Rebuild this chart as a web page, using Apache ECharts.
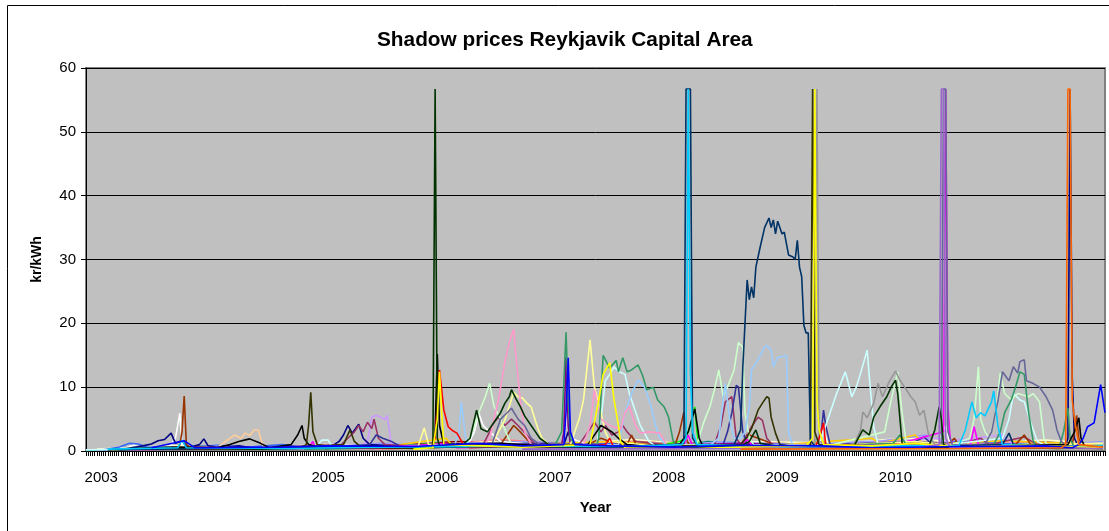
<!DOCTYPE html>
<html>
<head>
<meta charset="utf-8">
<script src="https://cdn.jsdelivr.net/npm/echarts@6/dist/echarts.min.js"></script>
<style>
  html, body { margin: 0; background: #fff; }
  #chart { width: 1109px; height: 531px; }
</style>
</head>
<body>
<div id="chart"></div>
<script>
// x = week index from the start of the series, y = kr/kWh
const yearLabels = ['2003', '2004', '2005', '2006', '2007', '2008', '2009', '2010']
const yearStartWeek = [7, 59, 111, 163, 215, 267, 319, 371]

const teal = [[8,0.2],[20,0.6],[35,0.4],[50,0.8],[65,0.5],[80,0.7],[95,0.3],[115,0.9],[130,0.6],[150,1.1],[165,0.8],[180,1.4],[195,1.6],[210,1.0],[225,1.3],[240,0.9],[255,1.2],[270,0.7],[285,1.5],[300,1.0],[315,1.3],[330,0.6],[345,1.1],[360,0.8],[375,1.2],[390,0.7],[405,1.4],[420,1.0],[435,0.8],[450,1.2],[466,0.6]]
const aqua = [[0,0.1],[25,0.4],[55,0.6],[85,0.3],[115,0.9],[145,0.5],[175,1.3],[205,0.8],[235,1.1],[265,0.7],[295,1.4],[325,0.9],[355,1.2],[385,0.6],[415,1.3],[445,0.8],[466,1]]
const darkRed = [[10,0.2],[45,0.5],[95,0.3],[135,0.7],[170,1.5],[195,1.2],[225,0.9],[255,1.6],[285,1.1],[315,1.4],[345,0.9],[375,1.3],[405,1.1],[435,1.5],[466,0.9]]
const lightPink = [[60,0.3],[110,0.5],[160,0.9],[190,1.8],[220,1.1],[250,1.5],[280,0.9],[310,1.3],[340,0.8],[370,1.6],[400,1],[430,1.4],[466,0.7]]
const cream = [[5,0.3],[40,0.8],[75,0.5],[110,1],[150,0.6],[185,1.5],[215,0.9],[250,1.8],[280,1.1],[310,1.5],[345,1.2],[375,2],[405,1.3],[440,1.7],[466,1.1]]
const periwinkle = [[5,0.2],[30,0.4],[70,0.6],[105,0.5],[135,1.2],[165,0.8],[200,1.5],[230,1.1],[262,0.7],[290,1.4],[330,1],[365,1.6],[385,2.5],[388,1.2],[415,1.8],[450,1.1],[466,1.5]]
const royal = [[8,0.2],[15,0.6],[20,1.2],[24,1.1],[28,0.6],[45,0.5],[60,0.9],[75,0.6],[90,1],[105,0.4],[130,0.8],[170,1.1],[210,0.7],[250,1.3],[290,0.9],[330,1.1],[370,0.7],[400,1.5],[430,1],[466,0.8]]
const gold = [[40,0.3],[90,0.5],[140,0.8],[165,2],[168,0.8],[200,1],[240,1.5],[280,0.8],[320,1],[360,2],[364,1.2],[380,2.5],[384,1],[420,1.6],[466,1]]
const lime = [[120,0.3],[140,0.6],[160,1.2],[175,0.8],[200,0.6],[220,0.9],[245,0.4],[260,0.7],[272,1.5],[275,2],[277,4],[279,6.9],[280,3],[281,0.8],[300,0.5],[330,0.8],[360,0.4],[400,0.9],[440,0.6],[466,0.4]]
const tan = [[20,0.2],[50,0.4],[60,0.5],[64,1.5],[68,2.5],[71,2],[73,2.8],[75,2.4],[77,3.3],[79,3.3],[81,0.8],[84,0.5],[130,0.4],[200,0.7],[260,0.5],[330,0.6],[400,0.5],[466,0.4]]
const lavender = [[90,0.3],[125,0.5],[129,1.5],[131,5.3],[133,5.6],[135,5.3],[137,4.9],[138,5.6],[139,3.3],[140,0.5],[180,0.8],[260,0.6],[360,1.2],[390,2],[392,1.5],[420,2.5],[425,1],[466,0.8]]
const white = [[12,0.2],[18,0.5],[22,0.9],[26,0.4],[38,0.5],[41,2],[43,5.9],[44,1],[46,0.5],[60,0.7],[80,0.4],[100,0.6],[120,0.5],[140,0.8],[160,0.5],[175,1],[178,3],[180,5.9],[182,4],[185,3],[190,1.5],[210,0.8],[219,1],[221,8],[222,2],[230,1],[250,0.6],[280,0.9],[310,0.5],[335,1],[338,3.5],[340,1],[360,0.6],[390,1],[394,4],[396,1],[420,0.7],[450,0.5],[466,0.9]]
const navy = [[18,0.3],[26,0.8],[30,1.1],[33,1.6],[36,1.8],[39,2.8],[41,1.2],[44,1.6],[47,0.5],[52,1],[54,1.9],[56,0.8],[62,0.5],[70,0.8],[78,0.4],[90,0.3],[112,0.6],[116,1.5],[118,2.5],[120,4],[122,2.8],[125,4.2],[127,2],[130,1],[150,0.6],[175,1.2],[200,0.9],[219,1],[221,3],[223,1],[250,0.7],[280,0.5],[310,0.8],[340,0.6],[380,0.5],[410,0.9],[440,0.6],[449,0.8],[450,2],[451,56.7],[452,11.4],[453,2],[455,0.5],[466,0.6]]
const plum = [[20,0.3],[50,0.6],[80,0.5],[117,1],[120,2],[123,3],[125,4],[127,3],[129,4.5],[131,3.5],[132,5],[134,2],[137,1],[160,0.6],[182,1],[185,3],[187,4.5],[189,5.3],[192,4],[195,5],[198,4],[202,2.5],[206,1],[226,1],[230,3],[233,4.5],[236,3],[238,4],[241,2.5],[244,3],[246,4],[248,3],[252,1.5],[270,0.8],[288,1],[291,4],[293,7.7],[296,8.5],[298,2],[300,1],[302,2],[305,3.8],[308,5.3],[310,4.8],[312,2],[315,0.8],[350,1],[380,1.5],[400,1],[410,2],[414,1],[430,2.2],[436,1],[466,0.8]]
const brown = [[42,0.5],[43,1],[44,3],[45,8.6],[46,1],[48,0.5],[80,0.4],[120,0.6],[150,0.5],[190,1],[193,2.5],[196,4],[199,3],[203,1.5],[206,0.8],[230,1],[236,2],[240,1.5],[248,1],[250,2.5],[252,1],[270,1],[272,3],[274,6.1],[275,2],[277,0.5],[300,1],[304,2.5],[308,2],[312,1.5],[316,0.8],[360,0.6],[395,1],[398,2],[400,0.8],[426,1],[430,2.5],[433,1],[452,1],[453,3],[454,5.6],[455,2],[457,0.5]]
const indigo = [[60,0.4],[110,0.5],[130,1],[133,2.5],[136,2],[140,1.5],[145,0.5],[180,0.8],[210,1.2],[250,0.9],[292,1],[294,3],[296,6],[298,10.3],[299,10],[301,3],[303,1],[320,0.7],[335,1],[337,3],[338,6.4],[339,4],[341,1],[380,1.5],[384,2.2],[388,1],[420,0.8],[466,0.6]]
const violet = [[60,0.3],[120,0.6],[160,0.9],[200,1],[218,1],[219,3],[220,14.7],[221,4],[222,1],[260,0.8],[300,1.2],[340,0.7],[380,1],[420,0.8],[466,0.5]]
const magenta = [[20,0.2],[60,0.4],[102,0.5],[104,1.5],[105,0.5],[140,0.6],[165,1.2],[170,0.5],[200,0.7],[240,0.5],[274,1],[276,2.5],[278,0.8],[300,1],[303,1.8],[306,0.6],[340,0.5],[370,0.9],[393,3],[394,56.7],[395,7],[396,2],[398,0.5],[405,0.5],[407,3.8],[409,1],[440,0.6],[466,0.5]]
const lightTurq = [[0,0.2],[30,0.3],[70,0.5],[105,0.5],[108,1.7],[111,1.7],[113,0.5],[150,0.7],[200,0.9],[225,0.6],[234,1],[236,5],[238,11],[240,12],[242,13.2],[244,12.5],[247,12],[249,9],[251,7],[254,4],[258,1.5],[262,0.5],[300,0.7],[336,1],[338,3],[341,6],[344,9],[348,12.4],[351,8.5],[353,10],[355,12.2],[358,15.8],[359,11.6],[361,3.8],[363,1],[390,0.8],[420,2],[423,5],[425,9],[428,8],[430,7.7],[433,4.4],[436,1.5],[440,0.8],[466,0.7]]
const lightGreen = [[150,0.3],[174,0.8],[177,3],[180,6],[183,8.5],[185,10.6],[187,7],[190,5],[193,2.5],[195,1],[230,0.6],[260,0.8],[280,1],[283,4.4],[286,7],[288,9.6],[290,12.7],[292,8.5],[294,10],[297,12.7],[299,17],[301,16.3],[302,6],[304,2],[306,1],[340,0.8],[366,3],[369,8],[372,12.4],[374,6],[376,1],[395,0.8],[405,2],[407,5],[409,13.2],[410,5],[412,3],[414,2],[417,6],[419,12.2],[421,9],[424,8],[427,9],[429,8.8],[432,8.5],[434,9],[437,7.7],[439,2],[441,0.5],[466,0.6]]
const paleBlue = [[80,0.3],[130,0.5],[160,0.6],[169,1],[171,3],[172,7.7],[174,2],[176,0.5],[210,0.6],[244,1],[247,6],[250,9],[253,11.1],[256,10],[259,7],[261,4],[263,2],[266,0.8],[285,0.6],[290,2],[292,8],[293,10.6],[295,5],[297,2],[300,2],[302,3],[304,7],[305,12.7],[308,14.3],[311,16.3],[312,16.5],[314,15.8],[315,13.2],[317,14.7],[318,14.7],[321,15],[322,2.8],[324,0.8],[360,0.6],[400,0.9],[440,0.6],[466,0.5]]
const lightYellow = [[60,0.3],[120,0.6],[152,0.5],[155,3.6],[157,1],[170,0.8],[186,1],[189,3],[192,4.9],[194,7],[196,9.2],[198,8.5],[200,8.3],[202,7.5],[204,6.9],[207,3.6],[209,2],[212,1],[222,1],[224,3],[226,5],[228,8],[231,17.4],[233,10],[236,6],[238,3],[240,1.5],[260,0.8],[300,0.6],[350,1],[380,1.5],[400,0.8],[440,1],[466,1.2]]
const pink = [[120,0.3],[160,0.5],[182,0.8],[185,2],[189,8],[192,14],[194,17],[196,19.1],[197,15],[199,8],[201,3],[204,1],[215,0.6],[228,1],[231,4],[233,9.6],[234,8],[236,5],[240,4],[245,3.4],[247,6],[249,7],[252,3.8],[254,2.8],[258,3],[263,2.8],[266,1],[290,0.6],[330,0.5],[380,0.7],[420,0.5],[466,0.6]]
const seaGreen = [[100,0.3],[150,0.5],[200,0.8],[215,1],[218,3],[220,18.6],[221,8],[222,2],[224,1],[230,0.8],[234,1],[235,2],[237,15],[240,13],[243,14.2],[244,12.4],[246,14.6],[248,12.4],[250,12.7],[253,13.5],[255,11.9],[257,9.6],[260,10],[262,8],[265,6.9],[267,5.3],[269,1.7],[271,0.5],[300,0.6],[340,0.8],[370,1.2],[373,2.5],[376,1],[400,0.6],[416,1],[419,3],[421,6],[424,8],[426,10],[428,12.4],[430,12],[432,6],[434,1.7],[436,0.5],[446,0.5],[448,3],[450,6.7],[451,2],[453,0.5],[466,0.4]]
const slate = [[130,0.4],[170,0.8],[186,1],[188,3],[190,5],[193,6],[195,6.7],[198,5],[201,4],[204,2],[208,1],[240,0.7],[280,0.6],[330,0.8],[370,1],[392,1],[393,56.7],[394,56.7],[395,3],[397,1],[405,0.8],[412,1],[415,3],[418,8],[420,12.4],[423,11],[425,13.2],[427,12.2],[428,14],[430,14.3],[431,11],[434,10.6],[437,10],[440,8.5],[443,6.4],[445,3.3],[447,1.5],[449,0.8],[466,0.6]]
const gray = [[300,0.3],[334,1],[335,56.7],[336,1.5],[345,0.6],[352,1],[355,3.3],[356,6.1],[358,5.2],[361,7.5],[363,10.6],[365,8.5],[368,10.8],[371,12.5],[373,11.1],[376,9.6],[378,8.5],[380,7.7],[382,5.6],[384,6.4],[386,2.8],[389,1],[420,0.5],[466,0.4]]
const black = [[12,0.3],[40,0.6],[60,0.5],[66,1],[70,1.5],[75,1.9],[80,1.2],[84,0.5],[94,1],[97,2.5],[99,4],[100,2],[102,1],[110,0.4],[130,0.8],[150,0.5],[159,0.8],[160,3],[161,15.2],[162,4],[164,1],[190,1.2],[210,0.8],[230,1],[234,3],[236,4],[238,3.6],[241,3],[244,2],[248,1],[260,0.6],[272,1],[276,3],[279,6.6],[281,2],[283,0.6],[300,0.8],[330,0.5],[360,0.7],[390,0.5],[420,0.8],[450,1],[453,3],[455,5.2],[456,2],[458,0.5],[466,0.8]]
const red = [[40,0.3],[100,0.5],[140,0.4],[158,0.5],[160,2],[162,12.7],[164,6.4],[166,3.8],[168,3.2],[170,2.8],[173,1],[176,0.5],[200,0.8],[220,0.5],[238,1],[240,2],[242,0.5],[270,0.4],[300,0.7],[334,0.5],[336,2],[338,4.4],[339,1],[380,0.6],[420,0.5],[466,0.7]]
const darkGreen = [[10,0.2],[40,0.4],[80,0.3],[120,0.6],[150,0.5],[158,0.5],[159,1],[160,56.7],[161,2],[162,0.8],[168,0.6],[172,0.8],[176,2],[179,6.4],[181,3.5],[184,3],[187,4.5],[190,6],[192,7.5],[194,8.5],[195,9.6],[197,8.2],[199,7],[201,5.5],[204,4],[206,3],[208,2],[212,1],[216,0.6],[240,0.8],[260,0.5],[290,0.6],[300,0.8],[304,1.5],[307,3.3],[309,1.2],[320,0.6],[340,0.5],[352,0.8],[356,3.3],[359,2.5],[361,5.3],[364,7],[367,8.5],[369,10],[371,11.1],[372,9],[374,1.3],[376,0.5],[386,0.5],[389,3.3],[391,6.9],[392,5],[393,1],[396,0.5],[420,0.6],[445,0.4],[466,0.5]]
const olive = [[98,0.5],[101,1],[102,4],[103,9.2],[104,3],[106,1],[110,0.8],[118,1],[121,3.3],[123,1.5],[126,0.6],[150,0.4],[180,0.8],[220,0.6],[260,0.7],[300,1],[303,2.2],[305,3.5],[308,6.4],[310,7.5],[312,8.5],[313,8.3],[314,5.3],[316,2.8],[318,1],[322,0.8],[330,0.5],[332,1],[333,56.7],[334,3],[336,1],[370,0.6],[410,0.5],[466,0.4]]
const darkTeal = [[15,0.2],[60,0.4],[120,0.5],[180,0.7],[240,0.6],[270,1],[274,1.2],[275,56.7],[277,56.7],[278,2],[280,1],[290,0.8],[297,1],[300,3.3],[301,13],[303,26.8],[304,23.7],[305,25.7],[306,24],[307,28.8],[309,32],[311,35],[313,36.5],[314,35],[315,36.2],[316,34],[317,36],[319,34],[320,34.3],[322,30.7],[324,30.4],[325,30],[326,33],[327,28.8],[328,27.3],[329,19.7],[330,18.5],[331,18.5],[332,1.7],[334,0.8],[360,0.6],[400,0.8],[420,1],[423,2.8],[425,1],[450,0.7],[466,0.5]]
const skyBlue = [[10,0.3],[42,0.5],[44,1.7],[46,0.5],[90,0.4],[140,0.6],[200,0.8],[250,0.7],[273,1],[275,2],[276,56.7],[277,12],[278,3],[280,1],[320,0.6],[360,0.8],[400,0.8],[403,3.3],[406,7.7],[408,5.2],[410,6],[412,5.5],[415,7.7],[416,9.4],[418,3.8],[420,1],[445,0.6],[466,0.9]]
const yellow = [[150,0.3],[159,0.5],[161,5],[162,12.4],[163,6],[164,1],[200,0.6],[231,1],[235,8],[237,12],[240,13.8],[242,8],[244,4],[245,1.5],[247,0.5],[280,0.4],[300,0.6],[330,0.8],[333,2],[334,56.7],[335,8],[336,3.3],[338,1],[360,0.8],[380,1.2],[400,0.6],[430,0.9],[466,0.5]]
const purple = [[200,0.3],[300,0.4],[380,0.5],[391,1],[392,56.7],[393,56.7],[394,2],[396,0.5],[430,0.6],[466,0.4]]
const blue = [[30,0.5],[45,1.6],[50,0.5],[90,0.6],[110,0.8],[150,0.7],[180,1.2],[200,0.8],[219,1],[220,6],[221,14.6],[222,3],[224,1],[240,0.8],[270,0.6],[300,0.9],[336,0.8],[360,0.5],[400,0.7],[440,0.8],[452,0.5],[455,1],[457,2],[459,3.8],[462,4.4],[465,10.4],[467,6]]
const orange = [[300,0.3],[400,0.4],[447,0.5],[449,1],[450,56.7],[451,56.7],[452,8],[453,5],[455,1],[466,0.6]]

const lines = [
  ['teal', '#008080', teal], ['aqua', '#33CCCC', aqua], ['darkRed', '#800000', darkRed],
  ['lightPink', '#FF8080', lightPink], ['cream', '#FFFFCC', cream], ['periwinkle', '#9999FF', periwinkle],
  ['royal', '#3366FF', royal], ['gold', '#FFCC00', gold], ['lime', '#00FF00', lime],
  ['tan', '#FFCC99', tan], ['lavender', '#CC99FF', lavender], ['white', '#FFFFFF', white],
  ['navy', '#000080', navy], ['plum', '#993366', plum], ['brown', '#993300', brown],
  ['indigo', '#333399', indigo], ['violet', '#800080', violet], ['magenta', '#FF00FF', magenta],
  ['lightTurq', '#CCFFFF', lightTurq], ['lightGreen', '#CCFFCC', lightGreen], ['paleBlue', '#99CCFF', paleBlue],
  ['lightYellow', '#FFFF99', lightYellow], ['pink', '#FF99CC', pink], ['seaGreen', '#339966', seaGreen],
  ['slate', '#666699', slate], ['gray', '#969696', gray], ['black', '#000000', black],
  ['red', '#FF0000', red], ['darkGreen', '#003300', darkGreen], ['olive', '#333300', olive],
  ['darkTeal', '#003366', darkTeal], ['skyBlue', '#00CCFF', skyBlue], ['yellow', '#FFFF00', yellow],
  ['purple', '#9966CC', purple], ['blue', '#0000FF', blue], ['orange', '#FF6600', orange]
]

const font = 'Liberation Sans, Arial, sans-serif'
const chart = echarts.init(document.getElementById('chart'))
chart.setOption({
  animation: false,
  backgroundColor: '#fff',
  title: {
    text: 'Shadow prices Reykjavik Capital Area',
    left: 372,
    top: 25,
    textStyle: { fontFamily: font, fontSize: 20.8, fontWeight: 'bold', color: '#000' }
  },
  graphic: [{
    type: 'rect',
    shape: { x: 7.5, y: 5.5, width: 1120, height: 560 },
    style: { fill: 'none', stroke: '#000', lineWidth: 1 },
    silent: true
  }],
  grid: {
    left: 86, right: 4, top: 68, bottom: 80,
    show: true,
    backgroundColor: '#C0C0C0',
    borderColor: '#808080',
    borderWidth: 2
  },
  xAxis: {
    type: 'value',
    min: 0,
    max: 467,
    interval: 1,
    name: 'Year',
    nameLocation: 'middle',
    nameGap: 49,
    nameTextStyle: { fontFamily: font, fontSize: 15, fontWeight: 'bold', color: '#000' },
    axisLine: { lineStyle: { color: '#000', width: 1 } },
    axisTick: { show: true, length: 5, lineStyle: { color: '#000' } },
    splitLine: { show: false },
    axisLabel: {
      fontFamily: font, fontSize: 15, color: '#000', margin: 19,
      formatter: function (v) {
        const i = yearStartWeek.indexOf(v)
        return i >= 0 ? yearLabels[i] : ''
      }
    }
  },
  yAxis: {
    type: 'value',
    min: 0,
    max: 60,
    interval: 10,
    name: 'kr/kWh',
    nameLocation: 'middle',
    nameGap: 42,
    nameTextStyle: { fontFamily: font, fontSize: 14, fontWeight: 'bold', color: '#000' },
    axisLine: { show: true, lineStyle: { color: '#000', width: 1 } },
    axisTick: { show: true, length: 5, lineStyle: { color: '#000' } },
    splitLine: { lineStyle: { color: '#000', width: 1 } },
    axisLabel: { fontFamily: font, fontSize: 15, color: '#000', margin: 10 }
  },
  series: lines.map(function (l) {
    return {
      name: l[0],
      type: 'line',
      data: l[2],
      showSymbol: false,
      symbol: 'none',
      color: l[1],
      lineStyle: { color: l[1], width: 1.6 }
    }
  })
})
</script>
</body>
</html>
